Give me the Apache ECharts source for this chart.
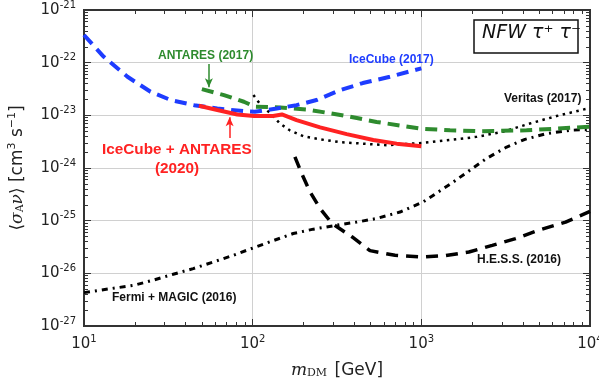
<!DOCTYPE html>
<html>
<head>
<meta charset="utf-8">
<script src="https://cdn.jsdelivr.net/npm/echarts@6/dist/echarts.min.js"></script>
<style>
  html, body { margin: 0; padding: 0; background: #fff; }
  #chart { width: 599px; height: 385px; }
</style>
</head>
<body>
<div id="chart"></div>
<script>
// 数据 [m_DM (GeV), <σv> (cm^3 s^-1)]
const iceCube2017 = [
  [10, 3.35e-22], [13.1, 1.29e-22], [18.1, 5.4e-23], [24.8, 2.8e-23], [32.7, 1.95e-23],
  [44.9, 1.56e-23], [61.7, 1.35e-23], [88.7, 1.2e-23], [103, 1.17e-23], [139, 1.35e-23],
  [182, 1.56e-23], [239, 1.95e-23], [329, 3.0e-23], [450, 4.1e-23], [651, 5.4e-23], [1000, 7.8e-23]
];
const antares2017 = [
  [50, 3.15e-23], [67.6, 2.42e-23], [88.7, 1.81e-23], [103, 1.46e-23], [145, 1.41e-23],
  [209, 1.29e-23], [275, 1.12e-23], [378, 9.4e-24], [543, 7.5e-24], [981, 5.6e-24],
  [1479, 5.2e-24], [2225, 5.0e-24], [4207, 5.2e-24], [6340, 5.6e-24], [10000, 6.1e-24]
];
const combined2020 = [
  [48, 1.52e-23], [61.7, 1.26e-23], [81.1, 1.04e-23], [102, 9.7e-24], [132, 9.7e-24],
  [149, 1.04e-23], [182, 8.1e-24], [251, 5.9e-24], [361, 4.4e-24], [519, 3.4e-24],
  [714, 2.9e-24], [1000, 2.6e-24]
];
const veritas2017 = [
  [101, 2.42e-23], [110, 1.68e-23], [127, 1.09e-23], [145, 7.0e-24], [166, 5.2e-24],
  [200, 4.0e-24], [251, 3.5e-24], [329, 3.1e-24], [452, 2.9e-24], [622, 2.7e-24],
  [1026, 3.0e-24], [1479, 3.4e-24], [2128, 3.9e-24], [3057, 4.9e-24], [4403, 7.0e-24],
  [6339, 9.7e-24], [10000, 1.38e-23]
];
const hess2016 = [
  [178, 1.63e-24], [195, 7.9e-25], [219, 3.5e-25], [251, 1.7e-25], [295, 8.9e-26],
  [389, 4.9e-26], [496, 2.7e-26], [698, 2.2e-26], [1009, 2.04e-26], [1394, 2.17e-26],
  [1915, 2.54e-26], [2633, 3.4e-26], [3620, 4.57e-26], [4976, 6.6e-26], [7165, 9.4e-26],
  [10000, 1.5e-25]
];
const fermiMagic2016 = [
  [10, 4.3e-27], [14.3, 5.1e-27], [19.6, 5.9e-27], [25.7, 7.4e-27], [33.8, 9.6e-27],
  [44.4, 1.23e-26], [58.4, 1.64e-26], [76.7, 2.2e-26], [101, 3.05e-26], [133, 4.2e-26],
  [174, 5.7e-26], [229, 6.9e-26], [315, 8.2e-26], [414, 9.4e-26], [543, 1.1e-25],
  [747, 1.46e-25], [1026, 2.27e-25], [1546, 5.4e-25], [1941, 9.1e-25], [2438, 1.52e-24],
  [3205, 2.5e-24], [4115, 3.5e-24], [5532, 4.5e-24], [7603, 5.2e-24], [10000, 5.4e-24]
];
// 箭头 (数据坐标)
const antaresArrow = [[55, 9.4e-23], [55, 3.4e-23]];
const combinedArrow = [[73, 3.7e-24], [73, 9.2e-24]];
// 坐标轴范围 (10 的幂次)
const xExp = [1, 4];
const yExp = [-27, -21];

// echarts 的 log 轴处理不了 1e-27 这么小的数, 以 10^-27 为单位
const Y_UNIT = Math.pow(10, -yExp[0]);
const scaleY = pts => pts.map(p => [p[0], p[1] * Y_UNIT]);

// 次刻度位置 (log10 空间): log10(k * 10^n), k = 2..9
function minorValues(lo, hi) {
  const out = [];
  for (let n = lo; n < hi; n++) {
    for (let k = 2; k <= 9; k++) out.push(n + Math.log10(k));
  }
  return out;
}

const chart = echarts.init(document.getElementById('chart'));

// 10^n 形式的刻度文字
function xLabel(v) {
  return '{b|10}{e|' + Math.round(Math.log10(v)) + '}';
}
function yLabel(v) {
  return '{b|10}{e|' + Math.round(Math.log10(v / Y_UNIT)) + '}';
}
const tickRich = {
  b: { fontSize: 15, fontFamily: 'DejaVu Sans', color: '#222' },
  e: { fontSize: 10, fontFamily: 'DejaVu Sans', color: '#222', padding: [0, 0, 10, 0] }
};

function logAxis(pos, min, max, labelFn, nameOpt) {
  return Object.assign({
    type: 'log',
    logBase: 10,
    position: pos,
    min: min,
    max: max,
    axisLine: { show: true, onZero: false, lineStyle: { color: '#333', width: 2 } },
    axisTick: { show: false },
    splitLine: { show: !!labelFn, lineStyle: { color: '#d0d0d0', width: 1 } },
    axisLabel: { show: !!labelFn, formatter: labelFn, rich: tickRich, margin: 8 }
  }, nameOpt || {});
}
// 只画刻度线的叠加轴 (log10 空间的数值轴), log 轴的 minorTick 不能用
// 标签不显示时刻度也不画, 所以放一个透明的标签在内侧
function tickAxis(pos, exps, len, custom) {
  const tick = { show: true, inside: true, length: len, lineStyle: { color: '#333', width: 1 } };
  if (custom) tick.customValues = custom;
  return {
    type: 'value',
    position: pos,
    min: exps[0],
    max: exps[1],
    interval: 1,
    axisLine: { show: true, onZero: false, lineStyle: { color: '#333', width: 2 } },
    axisTick: tick,
    splitLine: { show: false },
    axisLabel: { show: true, inside: true, color: 'rgba(0,0,0,0)', fontSize: 6, formatter: () => '.' }
  };
}

function lineSeries(name, data, color, width, type, z) {
  return {
    name: name,
    type: 'line',
    data: scaleY(data),
    xAxisIndex: 0,
    yAxisIndex: 0,
    showSymbol: false,
    symbol: 'none',
    silent: true,
    z: z,
    lineStyle: { color: color, width: width, type: type, cap: 'butt' }
  };
}

function arrow(pts, color) {
  const p = scaleY(pts);
  return {
    silent: true,
    symbol: ['none', 'arrow'],
    symbolSize: [6, 9],
    label: { show: false },
    lineStyle: { color: color, width: 1.5, type: 'solid' },
    data: [[{ coord: p[0] }, { coord: p[1] }]]
  };
}

const labelFont = 'Liberation Sans, Arial, sans-serif';
const xMin = Math.pow(10, xExp[0]);
const xMax = Math.pow(10, xExp[1]);
const yMin = 1;
const yMax = Math.pow(10, yExp[1] - yExp[0]);

const option = {
  animation: false,
  backgroundColor: '#fff',
  grid: { left: 84, right: 9, top: 10, bottom: 59, outerBoundsMode: 'none' },
  xAxis: [
    logAxis('bottom', xMin, xMax, xLabel, {
      name: '{i|m}{s|DM} [GeV]',
      nameLocation: 'middle',
      nameGap: 36,
      nameTextStyle: {
        rich: {
          i: { fontSize: 17, fontFamily: 'DejaVu Serif', fontStyle: 'italic', color: '#222' },
          s: { fontSize: 11, fontFamily: 'DejaVu Serif', color: '#222', padding: [6, 2, 0, 0] }
        },
        fontSize: 17, fontFamily: 'DejaVu Sans', color: '#222'
      }
    }),
    logAxis('top', xMin, xMax, null),
    tickAxis('bottom', xExp, 7),
    tickAxis('top', xExp, 7),
    tickAxis('bottom', xExp, 4, minorValues(xExp[0], xExp[1])),
    tickAxis('top', xExp, 4, minorValues(xExp[0], xExp[1]))
  ],
  yAxis: [
    logAxis('left', yMin, yMax, yLabel, {
      name: '⟨{i|σ}{s|A}{i|ν}⟩ [cm{p|3} s{p|−1}]',
      nameLocation: 'middle',
      nameRotate: 90,
      nameGap: 56,
      nameTextStyle: {
        rich: {
          i: { fontSize: 17, fontFamily: 'DejaVu Serif', fontStyle: 'italic', color: '#222' },
          s: { fontSize: 11, fontFamily: 'DejaVu Serif', color: '#222', padding: [6, 0, 0, 0] },
          p: { fontSize: 11, fontFamily: 'DejaVu Sans', color: '#222', padding: [0, 0, 10, 0] }
        },
        fontSize: 17, fontFamily: 'DejaVu Sans', color: '#222'
      }
    }),
    logAxis('right', yMin, yMax, null),
    tickAxis('left', yExp, 7),
    tickAxis('right', yExp, 7),
    tickAxis('left', yExp, 4, minorValues(yExp[0], yExp[1])),
    tickAxis('right', yExp, 4, minorValues(yExp[0], yExp[1]))
  ],
  series: [
    lineSeries('Fermi + MAGIC (2016)', fermiMagic2016, '#000', 3, [6, 5, 2, 5], 2),
    lineSeries('Veritas (2017)', veritas2017, '#000', 2.5, [2.5, 4.5], 2),
    lineSeries('H.E.S.S. (2016)', hess2016, '#000', 3.5, [12, 8], 2),
    Object.assign(lineSeries('ANTARES (2017)', antares2017, '#2e8b2e', 4, [12, 7], 3),
      { markLine: arrow(antaresArrow, '#2e8b2e') }),
    lineSeries('IceCube (2017)', iceCube2017, '#1e3cff', 4, [12, 7], 4),
    Object.assign(lineSeries('IceCube + ANTARES (2020)', combined2020, '#ff2222', 4, 'solid', 5),
      { markLine: arrow(combinedArrow, '#ff2222') })
  ],
  graphic: [
    {
      type: 'rect', z: 10,
      shape: { x: 474, y: 20, width: 104, height: 33 },
      style: { fill: '#fff', stroke: '#111', lineWidth: 1.5 }
    },
    {
      type: 'text', z: 11, left: 482, top: 24,
      style: { text: 'NFW τ⁺ τ⁻', font: 'italic 19px DejaVu Sans', fill: '#111' }
    },
    {
      type: 'text', z: 11, left: 158, top: 50,
      style: { text: 'ANTARES (2017)', font: 'bold 12px ' + labelFont, fill: '#2e8b2e' }
    },
    {
      type: 'text', z: 11, left: 349, top: 54,
      style: { text: 'IceCube (2017)', font: 'bold 12px ' + labelFont, fill: '#1e3cff' }
    },
    {
      type: 'text', z: 11, left: 504, top: 93,
      style: { text: 'Veritas (2017)', font: 'bold 12px ' + labelFont, fill: '#111' }
    },
    {
      type: 'text', z: 11, left: 102, top: 142,
      style: { text: 'IceCube + ANTARES', font: 'bold 15.3px ' + labelFont, fill: '#ff2222' }
    },
    {
      type: 'text', z: 11, left: 155, top: 161,
      style: { text: '(2020)', font: 'bold 15.3px ' + labelFont, fill: '#ff2222' }
    },
    {
      type: 'text', z: 11, left: 477, top: 254,
      style: { text: 'H.E.S.S. (2016)', font: 'bold 12px ' + labelFont, fill: '#111' }
    },
    {
      type: 'text', z: 11, left: 112, top: 292,
      style: { text: 'Fermi + MAGIC (2016)', font: 'bold 12px ' + labelFont, fill: '#111' }
    }
  ]
};

chart.setOption(option);
</script>
</body>
</html>
